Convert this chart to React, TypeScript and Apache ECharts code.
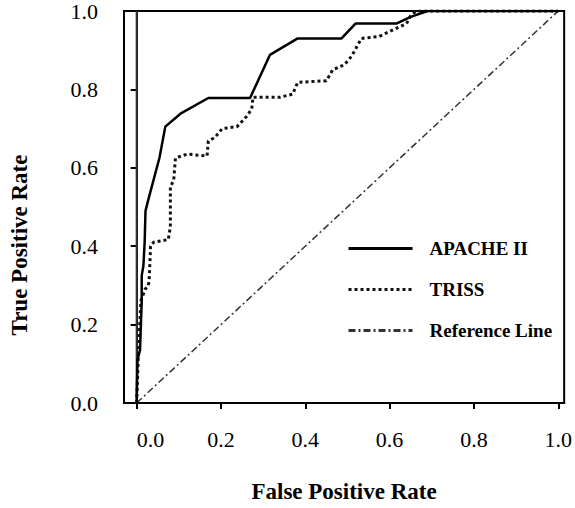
import React, { useEffect, useRef } from "react";
import * as echarts from "echarts";

// ---- Data ----
const apacheFpr = [0, 0.002, 0.008, 0.012, 0.012, 0.016, 0.019, 0.021, 0.028, 0.054, 0.068, 0.104, 0.17, 0.269, 0.316, 0.382, 0.486, 0.519, 0.616, 0.65, 0.69, 1.0];
const apacheTpr = [0, 0.11, 0.135, 0.26, 0.325, 0.35, 0.41, 0.49, 0.52, 0.625, 0.705, 0.738, 0.778, 0.778, 0.888, 0.93, 0.93, 0.968, 0.968, 0.985, 1.0, 1.0];

const trissFpr = [0, 0.004, 0.01, 0.02, 0.028, 0.03, 0.033, 0.04, 0.075, 0.08, 0.08, 0.088, 0.092, 0.12, 0.167, 0.17, 0.186, 0.203, 0.238, 0.26, 0.273, 0.276, 0.34, 0.37, 0.382, 0.45, 0.465, 0.493, 0.51, 0.533, 0.575, 0.64, 0.65, 0.663, 1.0];
const trissTpr = [0, 0.12, 0.26, 0.29, 0.3, 0.32, 0.4, 0.41, 0.417, 0.45, 0.55, 0.57, 0.625, 0.635, 0.63, 0.668, 0.678, 0.7, 0.705, 0.73, 0.75, 0.78, 0.78, 0.788, 0.818, 0.822, 0.85, 0.863, 0.885, 0.93, 0.935, 0.968, 0.988, 1.0, 1.0];

const referenceFpr = [0, 1];
const referenceTpr = [0, 1];

const axisZeroFpr = [0, 0];
const axisZeroTpr = [0, 1];

const xTickValues = [0, 0.2, 0.4, 0.6, 0.8, 1.0];

const seriesNames = ["APACHE II", "TRISS", "Reference Line"];

const zip = (xs: number[], ys: number[]) => xs.map((x, i) => [x, ys[i]]);

const SERIF = "'Liberation Serif', 'Times New Roman', serif";

export default function App() {
  const ref = useRef<HTMLDivElement>(null);

  useEffect(() => {
    if (!ref.current) return;
    const chart = echarts.init(ref.current, null, { renderer: "svg" });
    chart.setOption({
      animation: false,
      backgroundColor: "#ffffff",
      color: ["#000", "#000", "#000", "#000"],
      grid: {
        left: 123,
        right: 9,
        top: 7,
        bottom: 101,
        show: true,
        borderColor: "#000",
        borderWidth: 2,
        backgroundColor: "transparent",
      },
      legend: {
        data: seriesNames,
        orient: "vertical",
        left: 342,
        top: 234,
        itemWidth: 64,
        itemHeight: 14,
        itemGap: 22,
        itemStyle: { opacity: 0 },
        lineStyle: { width: 3 },
        textStyle: {
          fontFamily: SERIF,
          fontWeight: "bold",
          fontSize: 19,
          color: "#000",
          padding: [0, 0, 0, 12],
        },
      },
      xAxis: {
        type: "value",
        min: -0.03,
        max: 1.014,
        name: "False Positive Rate",
        nameLocation: "middle",
        nameGap: 77,
        nameTextStyle: {
          fontFamily: SERIF,
          fontWeight: "bold",
          fontSize: 23,
          color: "#000",
        },
        axisLine: { show: true, onZero: false, lineStyle: { color: "#000", width: 2 } },
        axisTick: {
          show: true,
          inside: false,
          length: 6,
          customValues: xTickValues,
          lineStyle: { color: "#000", width: 2 },
        },
        axisLabel: {
          customValues: xTickValues,
          formatter: (v: number) => v.toFixed(1),
          margin: 25,
          fontFamily: SERIF,
          fontSize: 22,
          color: "#000",
          alignMinLabel: "left",
        },
        splitLine: { show: false },
      },
      yAxis: {
        type: "value",
        min: 0,
        max: 1,
        interval: 0.2,
        name: "True Positive Rate",
        nameLocation: "middle",
        nameGap: 93,
        nameRotate: 90,
        nameTextStyle: {
          fontFamily: SERIF,
          fontWeight: "bold",
          fontSize: 23,
          color: "#000",
          padding: [0, 76, 0, 0],
        },
        axisLine: { show: true, lineStyle: { color: "#000", width: 2 } },
        axisTick: { show: true, inside: false, length: 6, lineStyle: { color: "#000", width: 2 } },
        axisLabel: {
          formatter: (v: number) => v.toFixed(1),
          margin: 26,
          fontFamily: SERIF,
          fontSize: 22,
          color: "#000",
        },
        splitLine: { show: false },
      },
      series: [
        {
          name: "axis-zero",
          type: "line",
          data: zip(axisZeroFpr, axisZeroTpr),
          symbol: "none",
          silent: true,
          lineStyle: { color: "#333", width: 2 },
        },
        {
          name: seriesNames[2],
          type: "line",
          data: zip(referenceFpr, referenceTpr),
          symbol: "none",
          itemStyle: { color: "#000" },
          lineStyle: { color: "#333", width: 1.5, type: [7, 3, 2, 3] },
        },
        {
          name: seriesNames[1],
          type: "line",
          data: zip(trissFpr, trissTpr),
          symbol: "none",
          itemStyle: { color: "#000" },
          lineStyle: { color: "#111", width: 3, type: [3, 3] },
        },
        {
          name: seriesNames[0],
          type: "line",
          data: zip(apacheFpr, apacheTpr),
          symbol: "none",
          itemStyle: { color: "#000" },
          lineStyle: { color: "#000", width: 2.5 },
        },
      ],
    });
    return () => chart.dispose();
  }, []);

  return (
    <div
      ref={ref}
      style={{ position: "fixed", left: 0, top: 0, width: 575, height: 508, background: "#fff" }}
    />
  );
}
